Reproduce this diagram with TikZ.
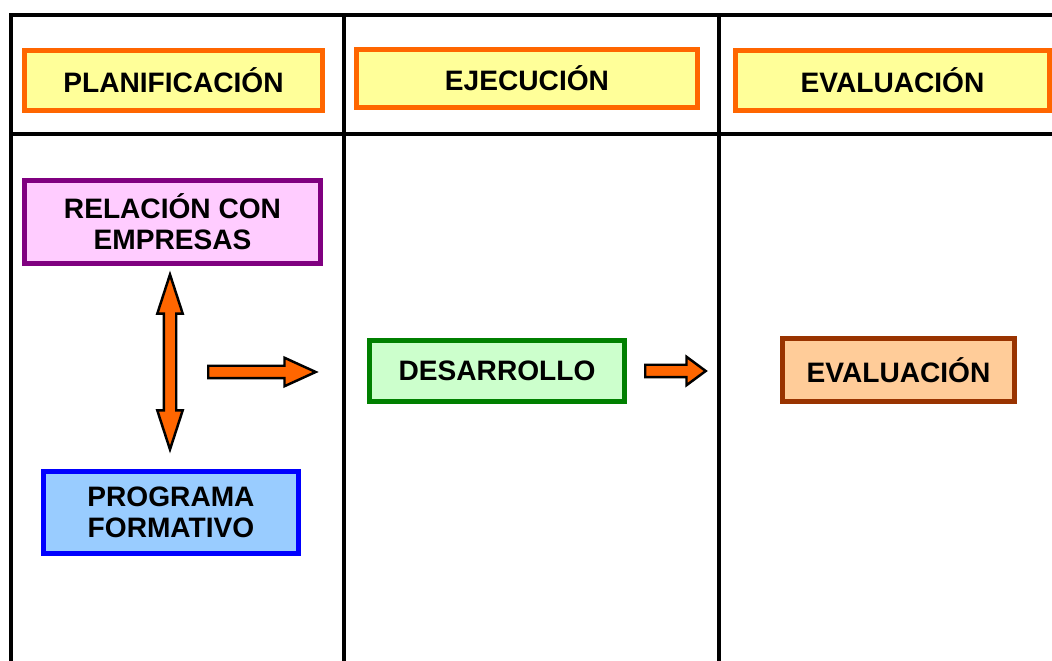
\documentclass[tikz,border=0pt]{standalone}
\usepackage{fontspec}
\setmainfont{Liberation Sans}
\usetikzlibrary{shapes.arrows}

\definecolor{amarillo}{HTML}{FFFF99}
\definecolor{naranja}{HTML}{FF6600}
\definecolor{rosa}{HTML}{FFCCFF}
\definecolor{morado}{HTML}{800080}
\definecolor{celeste}{HTML}{99CCFF}
\definecolor{azul}{HTML}{0000FF}
\definecolor{verdeclaro}{HTML}{CCFFCC}
\definecolor{verde}{HTML}{008000}
\definecolor{melocoton}{HTML}{FFCC99}
\definecolor{marron}{HTML}{993300}

\begin{document}
\begin{tikzpicture}[x=0.02cm, y=-0.02cm,
    caja/.style={draw, line width=2.8pt, inner sep=0pt, align=center,
      font=\bfseries\fontsize{16}{17.6}\selectfont},
    flecha/.style={draw=black, fill=naranja, line width=1.4pt,
      inner xsep=0pt, inner ysep=0.1cm}]
    \useasboundingbox (0,0) rectangle (1052,661);

    % marco
    \draw[line width=2.8pt] (11,661) -- (11,15) -- (1052,15);
    \draw[line width=2.8pt] (11,134) -- (1052,134);
    \draw[line width=2.8pt] (344,15) -- (344,661);
    \draw[line width=2.8pt] (719,15) -- (719,661);

    % cabeceras
    \node[caja, draw=naranja, fill=amarillo, minimum width=5.96cm, minimum height=1.2cm]
      (plan) at (173.5,80.5) {PLANIFICACIÓN};
    \node[caja, draw=naranja, fill=amarillo, minimum width=6.82cm, minimum height=1.16cm]
      (ejec) at (527,78.5) {EJECUCIÓN};
    \node[caja, draw=naranja, fill=amarillo, minimum width=6.28cm, minimum height=1.2cm]
      (eval) at (892.5,80.5) {EVALUACIÓN};

    % cajas
    \node[caja, draw=morado, fill=rosa, minimum width=5.92cm, minimum height=1.66cm]
      (rel) at (172.5,222) {RELACIÓN CON\\EMPRESAS};
    \node[caja, draw=azul, fill=celeste, minimum width=5.1cm, minimum height=1.64cm]
      (prog) at (171,512.5) {PROGRAMA\\FORMATIVO};
    \node[caja, draw=verde, fill=verdeclaro, minimum width=5.1cm, minimum height=1.22cm]
      (des) at (497,371) {DESARROLLO};
    \node[caja, draw=marron, fill=melocoton, minimum width=4.64cm, minimum height=1.26cm]
      (evalua) at (898.5,370) {EVALUACIÓN};

    % flechas
    \node[flecha, double arrow, rotate=90, minimum height=3.5cm,
      double arrow head extend=0.13cm, double arrow tip angle=36]
      (ida) at (170,362) {};
    \node[flecha, single arrow, anchor=tail, minimum height=2.15cm,
      single arrow head extend=0.16cm, single arrow tip angle=49]
      (f1) at (207,372) {};
    \node[flecha, single arrow, anchor=tail, minimum height=1.21cm,
      single arrow head extend=0.16cm, single arrow tip angle=73]
      (f2) at (644,371) {};
\end{tikzpicture}
\end{document}
